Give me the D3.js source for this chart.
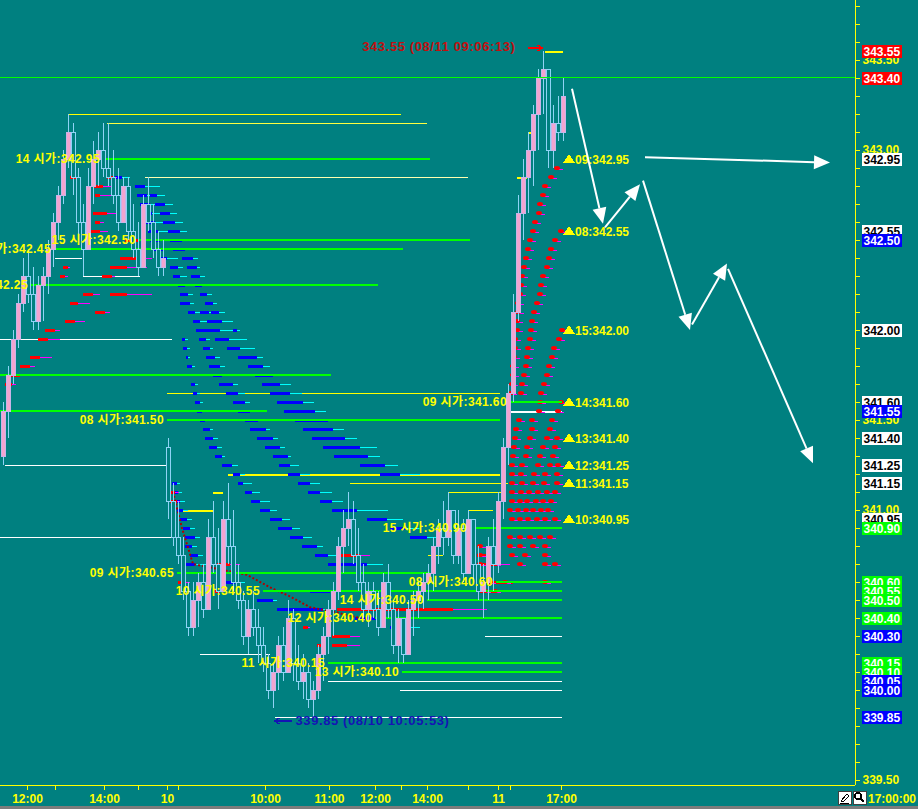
<!DOCTYPE html>
<html>
<head>
<meta charset="utf-8">
<script src="https://cdn.jsdelivr.net/npm/d3@7"></script>
<style>
body { margin: 0; background: #008080; overflow: hidden; }
svg { display: block; shape-rendering: crispEdges; }
text { font-family: "Liberation Sans", "Noto Sans CJK KR", sans-serif; font-weight: bold; }
</style>
</head>
<body>
<div id="chart"></div>
<script>
// bar slots: one candle every slot, three sessions (9th pm, 10th, 11th am)
// [open, high, low, close]
const candles = [
    [341.30,341.60,341.25,341.55],[341.55,341.80,341.40,341.75],[341.75,342.00,341.70,341.95],[341.95,342.20,341.90,342.15],
    [342.15,342.40,342.10,342.30],[342.30,342.45,342.15,342.20],[342.20,342.35,342.00,342.05],[342.05,342.30,342.00,342.25],
    [342.25,342.35,342.05,342.30],[342.30,342.50,342.20,342.45],[342.45,342.65,342.35,342.60],[342.60,342.80,342.50,342.75],
    [342.75,343.00,342.70,342.95],[342.95,343.20,342.90,343.10],[343.10,343.15,342.75,342.85],[342.85,342.90,342.50,342.60],
    [342.60,342.70,342.30,342.45],[342.45,342.90,342.45,342.80],[342.80,343.05,342.70,342.95],[342.95,343.10,342.80,343.00],
    [343.00,343.15,342.85,342.90],[342.90,343.15,342.80,342.85],[342.85,343.00,342.70,342.75],[342.75,342.90,342.55,342.60],
    [342.60,342.85,342.60,342.80],[342.80,342.85,342.50,342.55],[342.55,342.70,342.40,342.45],[342.45,342.60,342.30,342.35],
    [342.35,342.75,342.35,342.70],[342.70,342.85,342.55,342.60],[342.60,342.70,342.40,342.45],[342.45,342.55,342.30,342.35],
    [342.35,342.50,342.30,342.40],
    [341.35,341.40,340.95,341.05],[341.05,341.15,340.80,340.85],[340.85,341.05,340.70,340.75],[340.75,340.85,340.50,340.55],
    [340.55,340.60,340.30,340.35],[340.35,340.60,340.30,340.50],[340.50,340.65,340.35,340.60],[340.60,340.70,340.40,340.45],
    [340.45,340.95,340.45,340.85],[340.85,341.05,340.65,340.70],[340.70,340.90,340.45,340.55],[340.55,341.05,340.55,340.95],
    [340.95,341.15,340.70,340.80],[340.80,341.00,340.55,340.60],[340.60,340.70,340.45,340.50],[340.50,340.55,340.25,340.30],
    [340.30,340.50,340.20,340.45],[340.45,340.55,340.30,340.35],[340.35,340.45,340.15,340.25],[340.25,340.35,340.10,340.15],
    [340.15,340.20,339.95,340.00],[340.00,340.15,339.90,340.10],[340.10,340.30,340.00,340.25],[340.25,340.35,340.05,340.10],
    [340.10,340.50,340.10,340.40],[340.40,340.45,340.05,340.15],[340.15,340.25,340.00,340.05],[340.05,340.20,339.95,340.10],
    [340.10,340.15,339.90,339.95],[339.95,340.05,339.85,340.00],[340.00,340.25,339.95,340.20],[340.20,340.35,340.05,340.30],
    [340.30,340.50,340.20,340.45],[340.45,340.60,340.30,340.55],[340.55,340.85,340.50,340.80],[340.80,341.00,340.65,340.90],
    [340.90,341.10,340.80,340.95],[340.95,341.05,340.70,340.75],[340.75,340.90,340.55,340.60],[340.60,340.70,340.40,340.45],
    [340.45,340.60,340.35,340.55],[340.55,340.60,340.40,340.45],[340.45,340.55,340.30,340.35],[340.35,340.65,340.35,340.60],
    [340.60,340.70,340.40,340.45],[340.45,340.50,340.20,340.25],[340.25,340.45,340.15,340.40],[340.40,340.40,340.15,340.20],
    [340.20,340.50,340.20,340.45],[340.45,340.55,340.30,340.50],[340.50,340.60,340.40,340.55],[340.55,340.65,340.45,340.60],
    [340.60,340.70,340.50,340.65],[340.65,340.85,340.55,340.80],[340.80,340.95,340.70,340.90],[340.90,341.05,340.75,340.85],
    [340.85,341.10,340.80,341.00],[341.00,341.00,340.70,340.75],[340.75,341.00,340.70,340.90],[340.90,340.95,340.60,340.65],
    [340.65,341.00,340.65,340.95],[340.95,340.95,340.60,340.70],[340.70,340.80,340.50,340.55],[340.55,340.70,340.40,340.60],
    [340.60,340.85,340.50,340.80],[340.80,340.95,340.55,340.70],[340.70,341.10,340.65,341.05],
    [341.05,341.40,340.95,341.35],[341.35,341.70,341.25,341.65],[341.65,342.20,341.60,342.10],[342.10,342.75,342.05,342.65],
    [342.65,342.95,342.50,342.85],[342.85,343.10,342.65,343.00],[343.00,343.25,342.80,343.20],[343.20,343.45,343.00,343.40],
    [343.40,343.55,343.20,343.45],[343.45,343.45,342.90,343.00],[343.00,343.25,342.90,343.15],[343.15,343.30,343.05,343.10],
    [343.10,343.40,343.05,343.30]
]

// time axis (slot positions and labels)
const timeTicks = [5.4, 11, 20.8, 27.6, 33.4, 35.6, 53, 65.8, 75, 80.2, 85.4, 93.6, 99.6, 102, 112.2]
const timeLabels = ["12:00", "", "14:00", "", "10", "", "10:00", "11:00", "12:00", "", "14:00", "", "11", "", "17:00"]

// price axis labels
const priceLabels = [339.5, 340.0, 340.5, 341.0, 341.5, 342.0, 342.5, 343.0, 343.5]

// hourly open lines: [hour, price, start slot, end slot]
const openLines = [
    ["14", 342.95, 20.6, 86], ["15", 342.50, 27.8, 94], ["13", 342.45, 10.8, 80.6], ["12", 342.25, 6.2, 75.6],
    ["11", 341.75, 0, 66.2], ["10", 341.55, 0, 53.4], ["08", 341.50, 33.4, 100], ["09", 341.60, 102, 112.4],
    ["15", 340.90, 94, 112.4], ["09", 340.65, 35.4, 86], ["10", 340.55, 52.6, 112.4], ["08", 340.60, 99.2, 112.4],
    ["14", 340.50, 85.4, 112.4], ["12", 340.40, 75, 112.4], ["11", 340.15, 65.6, 112.4], ["13", 340.10, 80.4, 112.4]
]

// projected hourly levels on the right
const hourTargets = [["09", 342.95], ["08", 342.55], ["15", 342.00], ["14", 341.60],
    ["13", 341.40], ["12", 341.25], ["11", 341.15], ["10", 340.95]]

// thin high / low lines: [price, start slot, end slot, colour, width]
const levelLines = [
    [343.20, 13.6, 80.2, "#ffff00", 1], [343.15, 21.4, 85.4, "#ffff40", 1], [342.85, 29, 93.6, "#ffffb0", 1],
    [341.65, 33.4, 100, "#ffff00", 1], [341.20, 45.6, 100, "#ffff00", 2], [341.15, 70, 101.6, "#ffff00", 1],
    [341.10, 89.6, 100.6, "#ffff00", 1], [341.00, 36.4, 42.6, "#ffff00", 2], [341.10, 42.6, 44.6, "#ffff00", 2],
    [341.00, 93.8, 98.6, "#ffff00", 1], [340.75, 85.6, 88.6, "#ffff00", 1], [343.55, 109, 112.6, "#ffff00", 2],
    [342.85, 103.4, 105.4, "#ffff00", 2], [343.10, 105.6, 107.2, "#ffff00", 2],
    [341.95, 0, 34.4, "#ffffff", 1], [341.25, 1, 33.4, "#ffffff", 1], [340.85, 0, 35, "#ffffff", 1],
    [342.40, 11, 16.4, "#ffffff", 1], [342.30, 16.6, 28, "#ffffff", 1], [340.20, 40, 54, "#ffffff", 1],
    [340.05, 65.6, 112.4, "#ffffff", 1], [340.00, 80, 112.4, "#ffffff", 1], [339.85, 55, 112.4, "#ffffff", 1],
    [340.30, 97, 112.4, "#ffffff", 1], [341.55, 102, 112.4, "#ffffff", 2]
]

// blue/cyan tick fan: [price, blue start, blue end, cyan end]
const blueDashes = [
    [342.85,23,24.4,26],[342.80,27,29,32],[342.75,27.4,29.4,32],[342.75,30,31.4,33],[342.70,28,30,32.4],[342.70,31,33,34.6],
    [342.65,28.4,30.4,33],[342.65,32,34,35.4],[342.60,29,31,33.6],[342.60,32.6,35,36.6],[342.55,29.6,31.6,34.4],[342.55,33.6,36,37.4],
    [342.50,30,32,34],[342.50,34,36.4,38],[342.45,30.6,32.6,35],[342.45,34.6,37,39],[342.40,31.4,33.4,35.6],[342.40,36.4,38.6,39.6],
    [342.35,34,35.6,36.6],[342.35,37.4,39.4,40],[342.30,34.6,36,37.4],[342.30,38.2,40,41],[342.25,35.6,37,38],[342.25,39,40.4,41.6],
    [342.20,36,37.6,38.6],[342.20,40,41.4,42.4],[342.15,36,38,38.8],[342.15,41,42.6,43.4],[342.10,37.6,39,40],[342.10,40,41.8,42.4],
    [342.10,42.2,43.8,45],[342.05,38.6,40,41.4],[342.05,41.4,44.4,46.6],[342.00,39.2,40.6,41.6],[342.00,40.6,44,46.6],[342.00,46.6,47.4,48],
    [341.95,36.4,37,37.6],[341.95,39.8,41.2,42],[341.95,43,45.8,49.4],[341.90,36.6,37.4,38],[341.90,40.6,42,42.6],[341.90,45.4,48,51],
    [341.85,37.2,37.6,38],[341.85,41.2,43,44],[341.85,47.6,51.4,52.6],[341.80,37.4,38.4,39],[341.80,41.8,44,45],[341.80,49.6,52.6,54],
    [341.75,42.6,44.4,45.4],[341.75,51,54.6,56],[341.70,38.2,39,39.6],[341.70,43.8,46.6,47.6],[341.70,52.4,56,58.2],
    [341.65,38.6,39.4,40],[341.65,45.2,47.6,49],[341.65,54,58,60.4],[341.60,39,40,40.6],[341.60,46.6,49,50],[341.60,55.4,60.6,62.8],
    [341.55,39.4,40.4,41],[341.55,47.6,50,51],[341.55,56.8,63,65.2],[341.50,40,41,41.6],[341.50,49,51.6,52],[341.50,59,65.6,68],
    [341.45,40.6,42,42.6],[341.45,50,53.2,54],[341.45,60.6,66.6,68.8],[341.40,41,42.6,43.6],[341.40,51.4,54.6,55.6],[341.40,62.4,69,71.4],
    [341.35,41.8,43.4,44.4],[341.35,53,56,57],[341.35,64.6,72,75.4],[341.30,43,44.4,45],[341.30,54.6,57.6,58.2],[341.30,66.8,73.6,76],
    [341.25,44.4,46.4,47.6],[341.25,55.8,58,59.8],[341.25,72,77,79.6],[341.20,46.6,48,49],[341.20,57.6,60,62],[341.20,76,80,84],
    [341.15,47.6,48.6,50.4],[341.15,59.6,62,64],[341.10,49,50.4,52],[341.10,61.6,64,66.4],[341.05,50.2,52,54],[341.05,64,66.4,68.6],
    [341.00,52,54,55.4],[341.00,66.4,71.4,77.6],[340.95,54,56.4,58],[340.95,73.4,77.4,80.6],[340.90,55.6,58.4,60],[340.90,78,81,84],
    [340.85,58,60.6,62.4],[340.85,82,85.4,87.4],[340.80,60.4,63.4,64.6],[340.75,63,65.6,67.4],[340.70,65.6,73.4,76.6],
    [341.15,34.4,35.4,36],[341.10,34.6,35.6,36.4],[341.05,35,36,37],[341.00,35.4,36.6,37.6],[340.95,36,37.4,38.4],
    [340.90,36.6,38,39],[340.85,37,39,40],[340.80,37,38.4,39.4],[340.75,38,39.6,40.6],[340.70,36.4,39,42],
    [340.45,55.4,64.6,66],[340.50,51.4,54.6,55.4],[340.35,78,82,84],[340.40,71,76,78],[340.60,44,47,49],[340.55,62,66,68]
]

// red/magenta tick marks: [price, red start, red end, magenta end]
const redDashes = [
    [342.85,14,15.2,16],[342.85,21.4,22.6,23.4],[342.80,18.6,20.6,22.6],[342.75,19,20,22.6],[342.65,18.6,21.4,23.4],
    [342.60,19,20,20.8],[342.55,18,20,21.6],[342.50,25,27.6,28.4],[342.40,24,28,30.4],[342.35,22,25.4,29.4],[342.35,12.6,13.6,14],
    [342.30,12,13,13.6],[342.30,20.4,22.4,23],[342.20,16.6,18.6,20],[342.20,22,25.4,30.4],[342.15,14,15.6,18],[342.10,19,21,22],
    [342.05,13,15,17],[342.00,9,11,12],[341.95,7.6,9.6,12],[341.85,6,8,10.4],[341.80,4,6,7],[341.75,2,4,6],[341.70,1,2.4,3.2],
    [341.10,33.6,35,35.8],[341.05,34,35.4,36],[340.70,43.4,46,48],[340.60,35.6,37,38],[340.55,43,44,45],
    [340.75,68,72,74],[340.75,95.4,98.6,100],[340.70,95.4,100,102],[340.60,97.4,102.6,104],[340.55,96,100,102],
    [340.45,67.4,90.6,97.4],[340.30,66.4,70,72],[340.25,66.4,69.4,72],[340.35,57.4,58.4,59],[340.35,60.6,61.6,62],[340.25,63.4,64.6,65]
]

// red dots of the 11th: [price, [slots]]
const redDots = [
    [342.90,[111.4]],[342.85,[110.2]],[342.80,[109]],[342.75,[108.6]],[342.70,[108]],[342.65,[107.8]],[342.60,[107]],
    [342.55,[106.6,112.2]],[342.50,[106,111]],[342.45,[105.6,110.2]],[342.40,[105.2,109.8]],[342.35,[104.8,109.4]],
    [342.30,[104.4,108.6]],[342.25,[104.2,108.2]],[342.20,[104,108]],[342.15,[103.6,107.4]],[342.10,[103.6,106.8]],
    [342.05,[103.4,106.4]],[342.00,[103.4,106.2,112.4]],[341.95,[103,106,111.8]],[341.90,[103,105.6,110.8]],
    [341.85,[102.8,105.4,110.4]],[341.80,[102.6,105.2,109.8]],[341.75,[102.6,104.8,109.4]],[341.70,[102.4,104.4,108.8]],
    [341.65,[102.2,104.2,108.2]],[341.60,[108,112.2]],[341.55,[107.8,111.6]],[341.50,[103.8,106.4,110.4]],
    [341.45,[103.2,106.4,110]],[341.40,[103,106,109.4,111.4]],[341.35,[102.8,105.4,108.6,111]],[341.30,[102.6,105.2,108,110.6]],
    [341.25,[102.4,104.4,107.6,110,111.6]],[341.20,[102.4,104.2,106.8,109,111.4]],[341.15,[102.4,104.4,106.6,108.8,111.4]],
    [341.10,[102.4,104.2,105.8,107.6,109.4,111]],[341.05,[102.4,104,105.4,107.2,108.6,110.2]],
    [341.00,[102,103.6,105.2,106.6,108.2,109.6]],[340.95,[102.4,104,105.6,107.4,109,111]],[340.85,[102,104,106,108,110]],
    [340.80,[96,102,104,106.6,109]],[340.75,[96,102.4,105,109]],[340.70,[96,99,104,109,111]],[340.60,[98,101,109]],[340.55,[97,99]]
]

// dotted average of the 10th: [slot, price]
const avgLine = [[34.6,341.10],[36.4,340.90],[38.6,340.70],[49.4,340.64],[54,340.57],[58,340.52],[62,340.46],[67.4,340.43],[72,340.40]]

// price boxes on the axis
const boxPrices = [343.55, 343.40, 342.95, 342.55, 342.50, 342.00, 341.60, 341.55, 341.40, 341.25, 341.15, 340.95,
    340.90, 340.60, 340.55, 340.50, 340.40, 340.30, 340.15, 340.10, 340.05, 340.00, 339.85]
const boxKinds = ["red", "red", "white", "white", "blue", "white", "white", "blue", "white", "white", "white", "white",
    "green", "green", "green", "green", "green", "blue", "green", "green", "blue", "blue", "blue"]

// hand drawn forecast arrows: [slot0, price0, slot1, price1]
const arrows = [[114.4,343.34,120.6,342.59],[121,342.57,128,342.81],[129,342.96,166,342.93],
    [128.6,342.83,138,342.00],[138.4,342.03,145.4,342.37],[145.6,342.34,162.6,341.26]]

const hiNote = {slot: 108.5, price: 343.55, text: "343.55 (08/11 09:06:13)"}
const loNote = {slot: 62.5, price: 339.85, text: "339.85 (08/10 10:05:53)"}

const W = 918, H = 809, axisX = 855, axisY = 785
const x = d3.scaleLinear().domain([0, 171]).range([0, axisX])
const y = d3.scaleLinear().domain([339.5, 343.4]).range([780, 78])
const py = p => Math.round(y(p)) + 0.5     // pixel row of a 1px line
const boxFill = {red: "#ff0000", white: "#ffffff", blue: "#0000ff", green: "#00ff00"}
const boxText = {red: "#ffffff", white: "#000000", blue: "#ffffff", green: "#ffffff"}

const svg = d3.select("#chart").append("svg").attr("width", W).attr("height", H)
svg.append("rect").attr("width", W).attr("height", H).attr("fill", "#008080")

// level lines
svg.append("g").selectAll("line").data(levelLines).join("line")
    .attr("x1", d => x(d[1])).attr("x2", d => x(d[2]))
    .attr("y1", d => py(d[0])).attr("y2", d => py(d[0]))
    .attr("stroke", d => d[3]).attr("stroke-width", d => d[4])

// blue fan
const blueG = svg.append("g")
blueG.selectAll(".cy").data(blueDashes).join("line")
    .attr("x1", d => x(d[2])).attr("x2", d => x(d[3]))
    .attr("y1", d => py(d[0])).attr("y2", d => py(d[0]))
    .attr("stroke", "#00ffff").attr("stroke-width", 1)
blueG.selectAll(".bl").data(blueDashes).join("rect")
    .attr("x", d => x(d[1])).attr("width", d => x(d[2]) - x(d[1]))
    .attr("y", d => Math.round(y(d[0])) - 1).attr("height", 3)
    .attr("fill", "#0000ff")

// red marks
const redG = svg.append("g")
redG.selectAll(".mg").data(redDashes).join("line")
    .attr("x1", d => x(d[2])).attr("x2", d => x(d[3]))
    .attr("y1", d => py(d[0])).attr("y2", d => py(d[0]))
    .attr("stroke", "#ff00ff")
redG.selectAll(".rd").data(redDashes).join("rect")
    .attr("x", d => x(d[1])).attr("width", d => x(d[2]) - x(d[1]))
    .attr("y", d => Math.round(y(d[0])) - 1).attr("height", 3)
    .attr("fill", "#ff0000")

const dots = redDots.flatMap(r => r[1].map(s => [r[0], s]))
redG.selectAll(".dm").data(dots).join("line")
    .attr("x1", d => x(d[1])).attr("x2", d => x(d[1]) + 6)
    .attr("y1", d => py(d[0]) + 1).attr("y2", d => py(d[0]) + 1)
    .attr("stroke", "#ff00ff")
redG.selectAll(".dt").data(dots).join("ellipse")
    .attr("cx", d => x(d[1])).attr("cy", d => Math.round(y(d[0])))
    .attr("rx", 3).attr("ry", 2).attr("fill", "#ff0000")
    .style("shape-rendering", "auto")

svg.append("path").datum(avgLine)
    .attr("d", d3.line().x(d => x(d[0])).y(d => y(d[1])))
    .attr("fill", "none").attr("stroke", "#b00000").attr("stroke-width", 2)
    .attr("stroke-dasharray", "2,2").style("shape-rendering", "auto")

// hourly opens
svg.append("g").selectAll("line").data(openLines).join("line")
    .attr("x1", d => x(d[2])).attr("x2", d => x(d[3]))
    .attr("y1", d => Math.round(y(d[1]))).attr("y2", d => Math.round(y(d[1])))
    .attr("stroke", "#00ff00").attr("stroke-width", 2)

// candles
const candleG = svg.append("g")
candleG.selectAll("line").data(candles).join("line")
    .attr("x1", (d, i) => Math.round(x(i + 0.5)) + 0.5).attr("x2", (d, i) => Math.round(x(i + 0.5)) + 0.5)
    .attr("y1", d => y(d[1])).attr("y2", d => y(d[2]))
    .attr("stroke", "#8fd3f5")
candleG.selectAll("rect").data(candles).join("rect")
    .attr("x", (d, i) => Math.round(x(i + 0.5)) - 1.5).attr("width", 4)
    .attr("y", d => Math.round(y(Math.max(d[0], d[3]))) + 0.5)
    .attr("height", d => Math.max(1, Math.round(Math.abs(y(d[0]) - y(d[3])))))
    .attr("fill", d => d[3] >= d[0] ? "#f2a5cf" : "#008080")
    .attr("stroke", d => d[3] >= d[0] ? "#c8b4e8" : "#8fd3f5")

// open labels on top of the candles (labels left of the screen are not drawn)
svg.append("g").selectAll("text").data(openLines.filter(d => d[2] > 0)).join("text")
    .attr("x", d => x(d[2]) - 3).attr("y", d => y(d[1]) + 4)
    .attr("text-anchor", "end").attr("font-size", 12).attr("letter-spacing", 0.4)
    .attr("fill", "#ffff00")
    .text(d => d[0] + " 시가:" + d[1].toFixed(2))

// right side hour levels
const tg = svg.append("g").selectAll("g").data(hourTargets).join("g")
    .attr("transform", d => "translate(" + x(112.6) + "," + Math.round(y(d[1])) + ")")
tg.append("path").attr("d", "M0,4L6,-5L12,4Z").attr("fill", "#ffff00")
tg.append("text").attr("x", 12).attr("y", 4.5).attr("font-size", 12).attr("fill", "#ffff00")
    .text(d => d[0] + ":" + d[1].toFixed(2))

// full width last price line
svg.append("rect").attr("x", 0).attr("width", axisX)
    .attr("y", Math.round(y(343.40)) - 1).attr("height", 1)
    .attr("fill", "#00ff00")

// high / low notes
const hx = x(hiNote.slot), hy = y(hiNote.price)
svg.append("text").attr("x", hx - 27).attr("y", hy).attr("text-anchor", "end")
    .attr("font-size", 13).attr("letter-spacing", 0.6).attr("font-weight", "normal")
    .attr("fill", "#c01010").text(hiNote.text)
svg.append("path").attr("d", `M${hx - 15},${hy - 3}H${hx}M${hx - 5},${hy - 6}L${hx},${hy - 3}L${hx - 5},${hy}`)
    .attr("stroke", "#ff0000").attr("stroke-width", 1.5).attr("fill", "none")
const lx = x(loNote.slot), ly = y(loNote.price)
svg.append("text").attr("x", lx - 17).attr("y", ly + 8)
    .attr("font-size", 13).attr("letter-spacing", 0.6).attr("font-weight", "normal")
    .attr("fill", "#1414b4").text(loNote.text)
svg.append("path").attr("d", `M${lx - 38},${ly + 4}H${lx - 21}M${lx - 33},${ly + 1}L${lx - 38},${ly + 4}L${lx - 33},${ly + 7}`)
    .attr("stroke", "#1414b4").attr("stroke-width", 1.5).attr("fill", "none")

// forecast arrows
const arrG = svg.append("g").style("shape-rendering", "auto")
arrows.forEach(a => {
    const x0 = x(a[0]), y0 = y(a[1]), x1 = x(a[2]), y1 = y(a[3])
    const ang = Math.atan2(y1 - y0, x1 - x0)
    const L = 16, Wd = 7
    const bx = x1 - L * Math.cos(ang), by = y1 - L * Math.sin(ang)
    arrG.append("line").attr("x1", x0).attr("y1", y0).attr("x2", bx).attr("y2", by)
        .attr("stroke", "#ffffff").attr("stroke-width", 2)
    arrG.append("path")
        .attr("d", `M${x1},${y1}L${bx + Wd * Math.sin(ang)},${by - Wd * Math.cos(ang)}L${bx - Wd * Math.sin(ang)},${by + Wd * Math.cos(ang)}Z`)
        .attr("fill", "#ffffff")
})

// axes
const xAxis = d3.axisBottom(x).tickValues(timeTicks)
    .tickFormat((d, i) => timeLabels[i]).tickSize(4).tickSizeOuter(0).tickPadding(5)
const gx = svg.append("g").attr("transform", "translate(0," + (axisY + 0.5) + ")").call(xAxis)
gx.select(".domain").remove()
gx.attr("color", "#ffff00").attr("font-size", 12)
    .attr("font-family", "Liberation Sans, Noto Sans CJK KR, sans-serif").attr("font-weight", "bold")

const yAxis = d3.axisRight(y).tickValues(d3.ticks(339.5, 343.8, 43))
    .tickFormat(d => priceLabels.some(p => Math.abs(p - d) < 1e-6) ? d.toFixed(2) : "")
    .tickSize(4).tickPadding(3)
const gy = svg.append("g").attr("transform", "translate(" + (axisX + 0.5) + ",0)").call(yAxis)
gy.select(".domain").remove()
gy.attr("color", "#ffff00").attr("font-size", 12)
    .attr("font-family", "Liberation Sans, Noto Sans CJK KR, sans-serif").attr("font-weight", "bold")
gy.selectAll("text").attr("text-anchor", "start")

svg.append("line").attr("x1", 0).attr("x2", axisX).attr("y1", axisY + 0.5).attr("y2", axisY + 0.5).attr("stroke", "#ffff00")
svg.append("line").attr("x1", axisX + 0.5).attr("x2", axisX + 0.5).attr("y1", 0).attr("y2", axisY).attr("stroke", "#ffff00")

// price boxes
const bg = svg.append("g").selectAll("g").data(boxPrices).join("g")
    .attr("transform", d => "translate(862," + Math.round(y(d)) + ")")
bg.append("rect").attr("x", 0).attr("y", -6).attr("width", 40).attr("height", 13)
    .attr("fill", (d, i) => boxFill[boxKinds[i]])
bg.append("text").attr("x", 1.5).attr("y", 5).attr("font-size", 12)
    .attr("fill", (d, i) => boxText[boxKinds[i]]).text(d => d.toFixed(2))

// bottom right tools and clock
const tools = svg.append("g")
tools.append("rect").attr("x", 838.5).attr("y", 791.5).attr("width", 13).attr("height", 13).attr("fill", "#ffffff").attr("stroke", "#404040")
tools.append("path").attr("d", "M841,801L847,794L849,796L843,802Z M840,803H849").attr("stroke", "#000").attr("fill", "none")
tools.append("rect").attr("x", 853.5).attr("y", 791.5).attr("width", 13).attr("height", 13).attr("fill", "#ffffff").attr("stroke", "#404040")
tools.append("circle").attr("cx", 858).attr("cy", 796).attr("r", 3).attr("stroke", "#000").attr("stroke-width", 1.5).attr("fill", "none")
tools.append("line").attr("x1", 860).attr("y1", 798).attr("x2", 864).attr("y2", 802).attr("stroke", "#000").attr("stroke-width", 2)
svg.append("text").attr("x", 868).attr("y", 803).attr("font-size", 12).attr("fill", "#ffff00").text("17:00:00")
svg.append("rect").attr("x", 0).attr("y", 806).attr("width", W).attr("height", 3).attr("fill", "#7c7c7c")
</script>
</body>
</html>
